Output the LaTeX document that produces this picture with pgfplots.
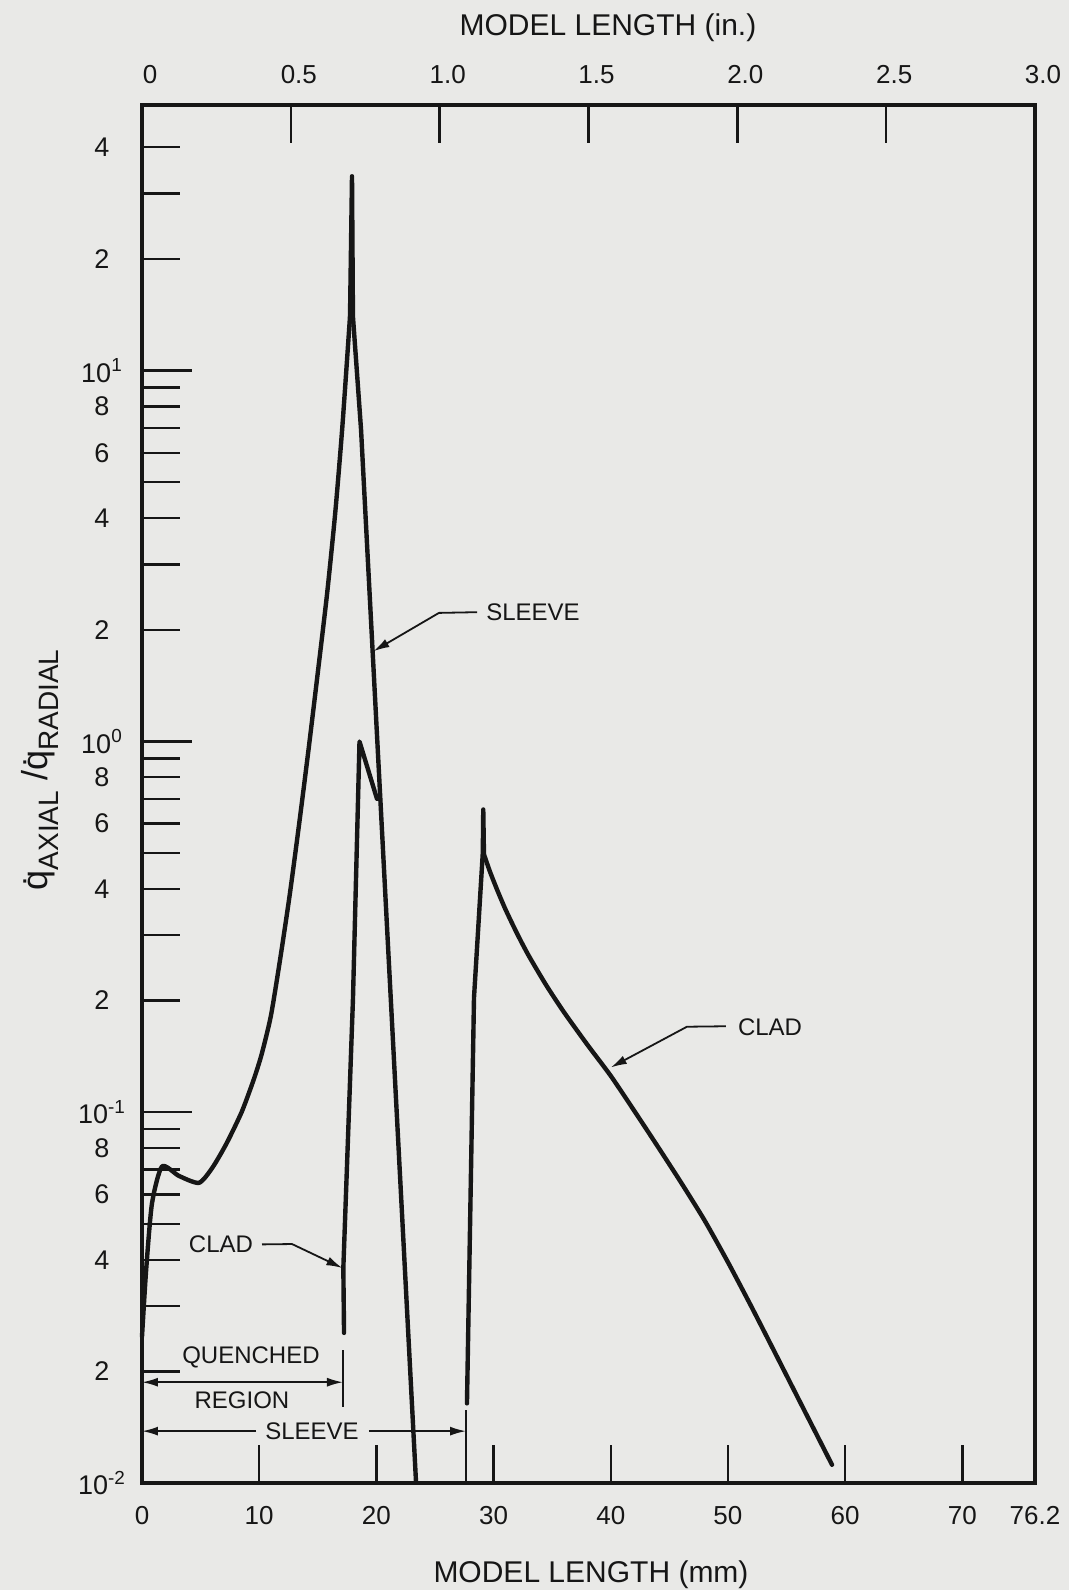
\documentclass[border=0pt]{standalone}
\usepackage{fontspec}
\setmainfont{Liberation Sans}
\usepackage{pgfplots}
\pgfplotsset{compat=1.18}
\usetikzlibrary{arrows.meta}
\definecolor{paper}{RGB}{233,233,231}
\definecolor{ink}{RGB}{22,22,22}
\begin{document}
\begin{tikzpicture}
\fill[paper] (-71pt,-53.5pt) rectangle (463.5pt,741.5pt);
\path[use as bounding box] (-71pt,-53.5pt) rectangle (463.5pt,741.5pt);
% top axis (inches)
\begin{axis}[at={(0,0)}, anchor=south west, scale only axis,
  width=446.5pt, height=689pt,
  xmin=0, xmax=3, ymin=0, ymax=1,
  axis line style={draw=none},
  xtick pos=top, ytick=\empty, tick align=inside,
  major tick length=19pt, xminorticks=false,
  tick style={line width=1.2pt, ink},
  xtick={0,0.5,1,1.5,2,2.5,3},
  xticklabels={0,0.5,1.0,1.5,2.0,2.5,3.0},
  xticklabel style={font=\fontsize{13}{15}\selectfont, anchor=center, yshift=15pt, xshift=4pt, text=ink}]
\end{axis}
% main axis (mm)
\begin{axis}[at={(0,0)}, anchor=south west, scale only axis,
  width=446.5pt, height=689pt,
  xmin=0, xmax=76.2, ymode=log, ymin=0.01, ymax=52,
  axis line style={line width=1.6pt, ink},
  tick align=inside, xtick pos=bottom, ytick pos=left,
  xminorticks=false, yminorticks=false,
  major tick length=19pt,
  tick style={line width=1.2pt, ink},
  xtick={0,10,20,30,40,50,60,70,76.2},
  xticklabels={0,10,20,30,40,50,60,70,76.2},
  xticklabel style={font=\fontsize{13}{15}\selectfont, anchor=center, yshift=-16.5pt, text=ink},
  ytick={0.02,0.03,0.04,0.05,0.06,0.07,0.08,0.09,0.2,0.3,0.4,0.5,0.6,0.7,0.8,0.9,2,3,4,5,6,7,8,9,20,30,40},
  yticklabels={2,,4,,6,,8,,2,,4,,6,,8,,2,,4,,6,,8,,2,,4},
  yticklabel style={font=\fontsize{13.5}{15}\selectfont, anchor=center, xshift=-20pt, text=ink},
  extra y ticks={0.01,0.1,1,10},
  extra y tick labels={10\textsuperscript{-2},10\textsuperscript{-1},10\textsuperscript{0},10\textsuperscript{1}},
  extra y tick style={major tick length=25pt},
  clip=false]
% sleeve curve (quenched region, smooth rise)
\addplot[ink, line width=2.2pt, smooth, tension=0.4, line cap=round, line join=round] coordinates {
 (0,0.0248) (0.35,0.0374) (0.85,0.0567) (1.71,0.0714) (3.16,0.0673) (4.86,0.0645)
 (6.0,0.0708) (7.2,0.0822) (8.5,0.100) (9.5,0.1216) (10.2,0.1429) (11.0,0.1820)
 (11.8,0.2600) (12.6,0.3846) (13.4,0.5957) (14.2,0.9441) (15.0,1.531) (15.8,2.512)
 (16.5,4.169) (17.1,7.079) (17.75,14.0)};
% sleeve peak and fall
\addplot[ink, line width=2.2pt, line cap=round, line join=round] coordinates {
 (17.75,14.0) (17.92,33.4) (18.00,13.99) (18.69,6.94) (23.38,0.0101)};
% clad, quenched region
\addplot[ink, line width=2.2pt, line cap=round, line join=round] coordinates {
 (17.24,0.0254) (17.18,0.038) (18.00,0.201) (18.56,0.9986) (20.05,0.70)};
% clad, beyond the sleeve
\addplot[ink, line width=2.2pt, line cap=round, line join=round] coordinates {
 (27.73,0.0164) (28.33,0.2036) (29.08,0.50) (29.12,0.655) (29.18,0.4955)};
\addplot[ink, line width=2.2pt, smooth, tension=0.4, line cap=round, line join=round] coordinates {
 (29.18,0.4955) (29.7,0.4446) (30.3,0.3981) (31.0,0.3532) (32.0,0.3034) (33.0,0.2642)
 (34.5,0.2198) (36.0,0.1862) (38.0,0.1521) (40.0,0.1253) (42.0,0.1009) (44.0,0.0809)
 (46.0,0.0646) (48.0,0.0511) (50.0,0.0394) (52.0,0.0299) (54.0,0.0225) (56.0,0.0169)
 (58.88,0.0112)};
% annotations
\begin{scope}[font=\fontsize{12}{14}\selectfont, text=ink]
\node at (axis cs:33.36,2.23) {SLEEVE};
\draw[ink, line width=0.9pt, -{Latex[length=8pt,width=4.5pt]}] (axis cs:28.59,2.23) -- (axis cs:25.34,2.22) -- (axis cs:19.75,1.75);
\node at (axis cs:53.59,0.1693) {CLAD};
\draw[ink, line width=0.9pt, -{Latex[length=8pt,width=4.5pt]}] (axis cs:49.83,0.1705) -- (axis cs:46.50,0.170) -- (axis cs:40.0,0.132);
\node at (axis cs:6.74,0.044) {CLAD};
\draw[ink, line width=0.9pt, -{Latex[length=8pt,width=4.5pt]}] (axis cs:10.24,0.044) -- (axis cs:12.80,0.0441) -- (axis cs:17.1,0.038);
\node at (axis cs:9.30,0.02175) {QUENCHED};
\node at (axis cs:8.53,0.01674) {REGION};
\draw[ink, line width=0.9pt, {Latex[length=8pt,width=4.5pt]}-{Latex[length=8pt,width=4.5pt]}] (axis cs:0,0.0187) -- (axis cs:17.15,0.0187);
\draw[ink, line width=0.9pt] (axis cs:17.15,0.0228) -- (axis cs:17.15,0.016);
\node at (axis cs:14.51,0.0138) {SLEEVE};
\draw[ink, line width=0.9pt, -{Latex[length=8pt,width=4.5pt]}] (axis cs:9.73,0.0138) -- (axis cs:0,0.0138);
\draw[ink, line width=0.9pt, -{Latex[length=8pt,width=4.5pt]}] (axis cs:19.37,0.0138) -- (axis cs:27.65,0.0138);
\draw[ink, line width=0.9pt] (axis cs:27.65,0.0157) -- (axis cs:27.65,0.01);
\end{scope}
\end{axis}
% axis titles
\node[text=ink, font=\fontsize{15}{18}\selectfont] at (233pt,727.5pt) {MODEL LENGTH (in.)};
\node[text=ink, font=\fontsize{15}{18}\selectfont] at (224.5pt,-46pt) {MODEL LENGTH (mm)};
\node[text=ink, rotate=90] at (-51pt,356.5pt) {\fontsize{18}{21}\selectfont \.{q}\raisebox{-0.3em}{\fontsize{14}{16}\selectfont AXIAL} /\.{q}\raisebox{-0.3em}{\fontsize{14}{16}\selectfont RADIAL}};
\end{tikzpicture}
\end{document}
